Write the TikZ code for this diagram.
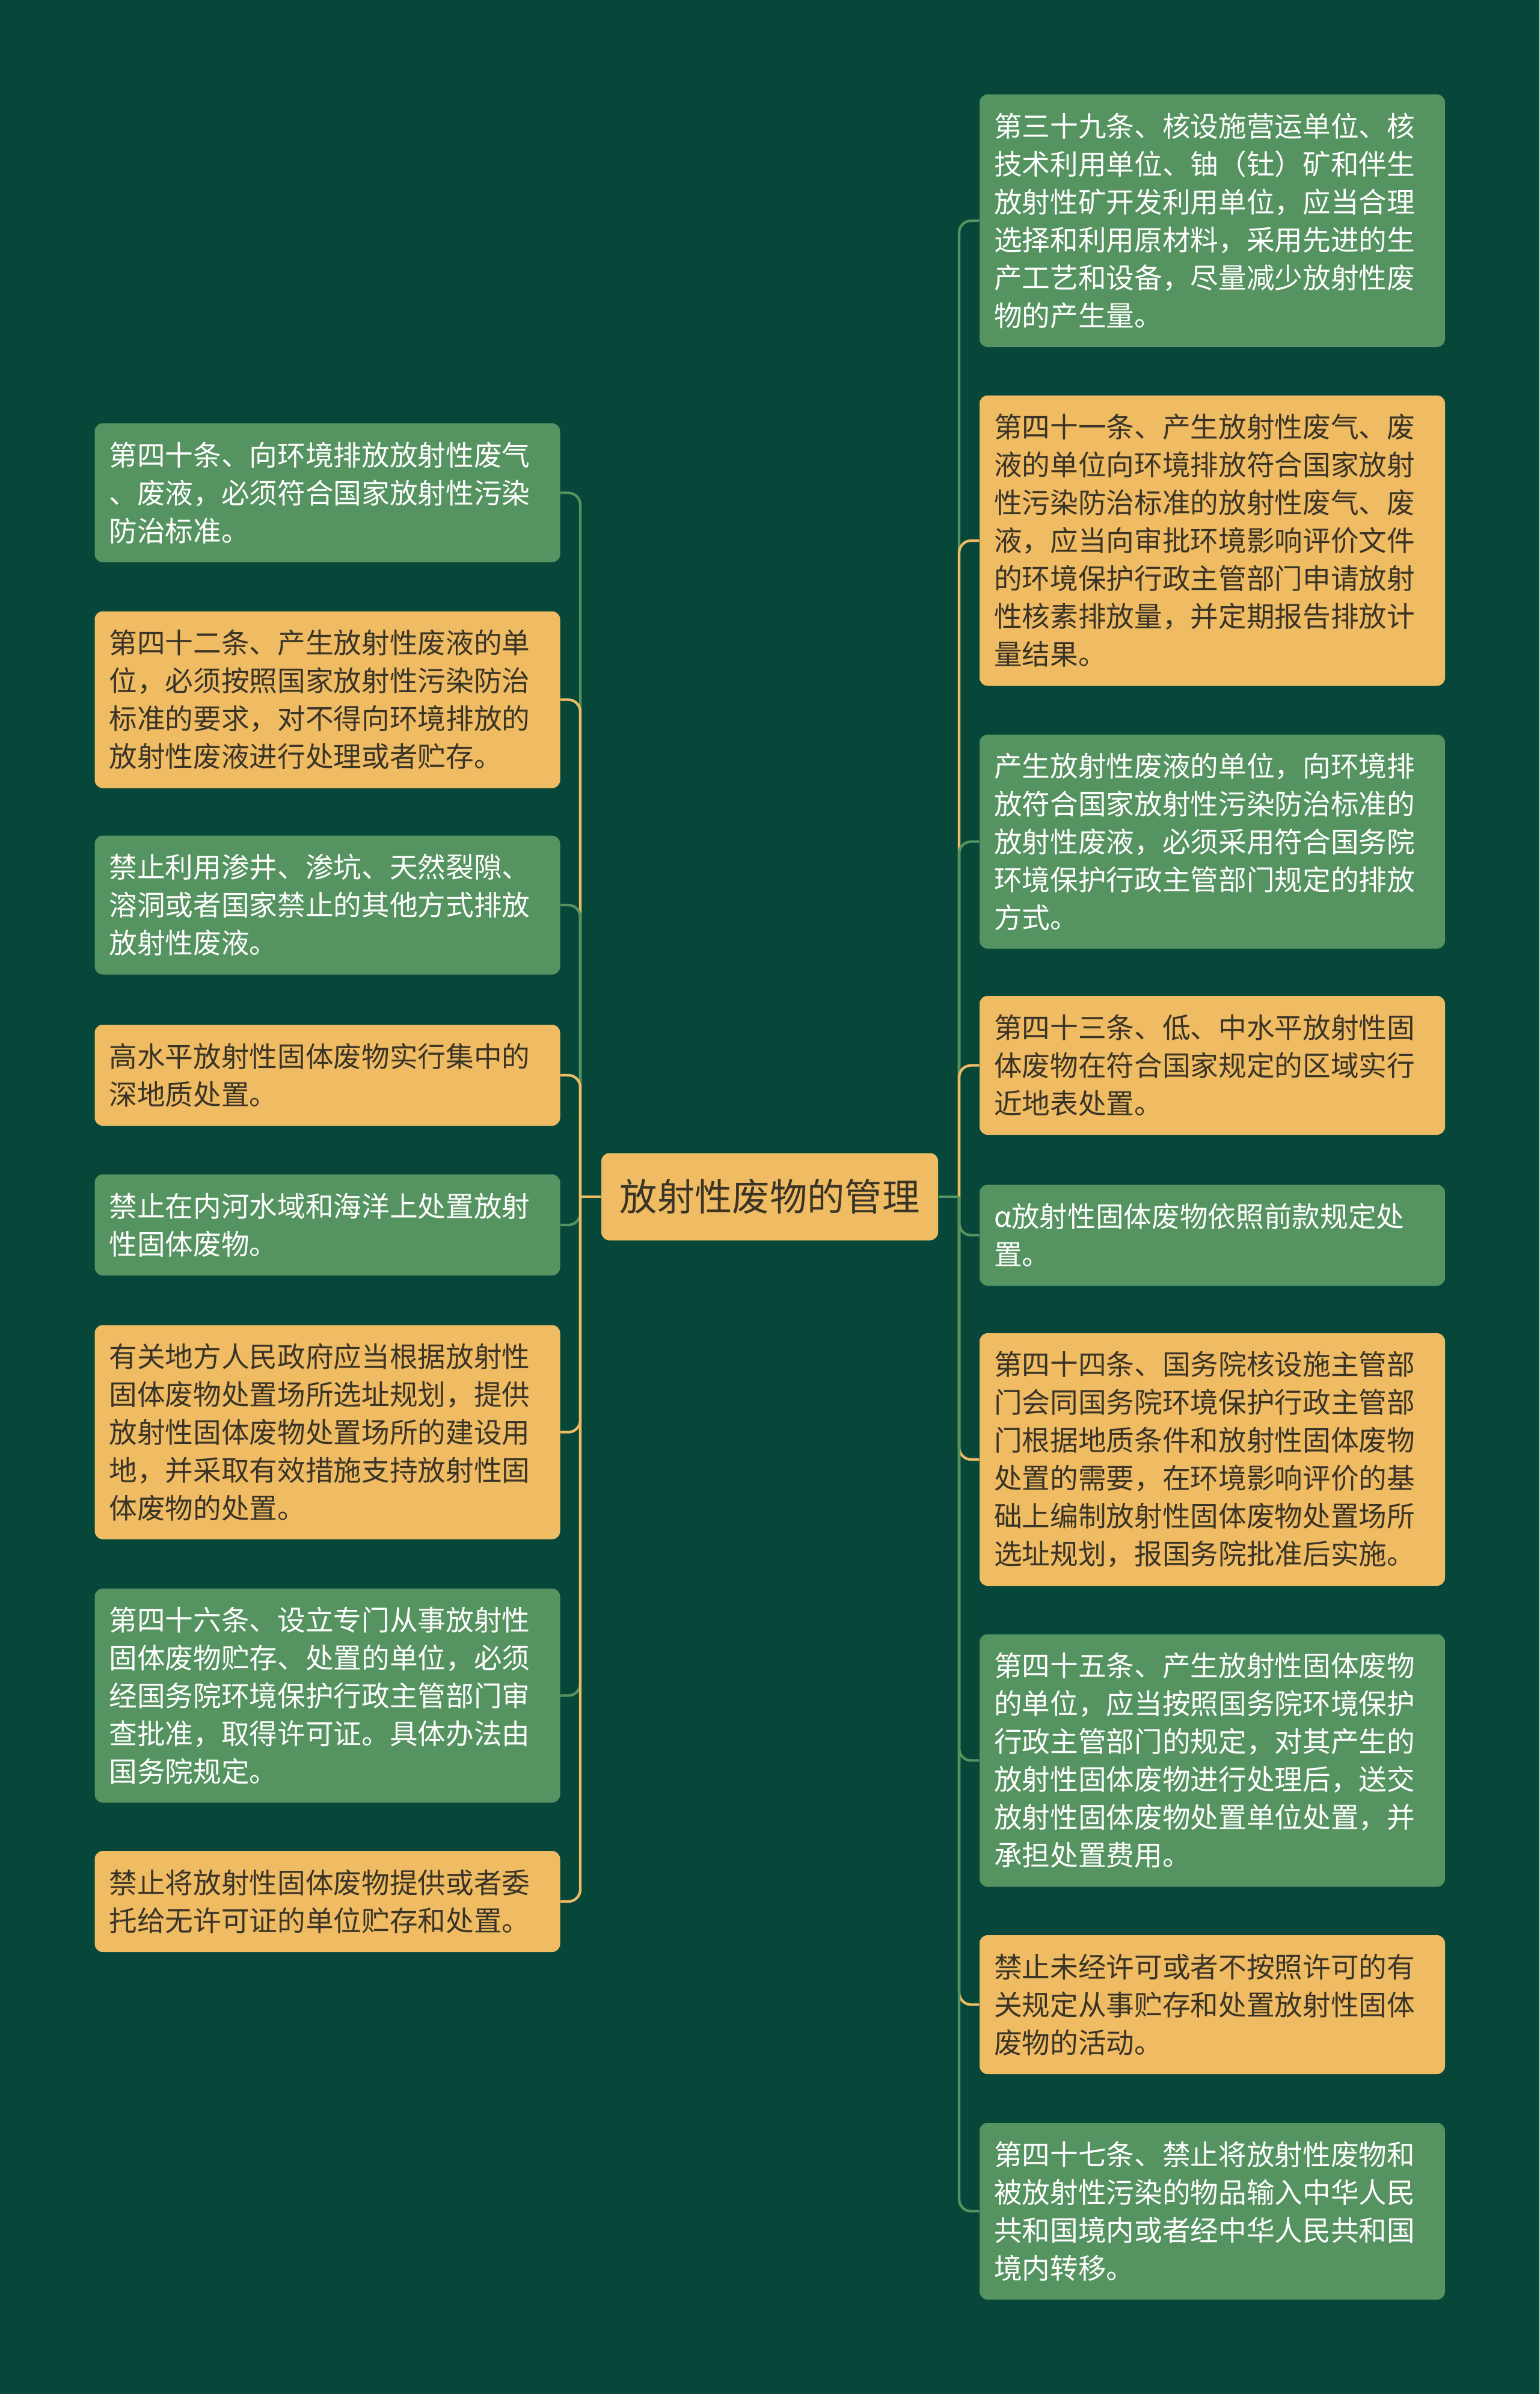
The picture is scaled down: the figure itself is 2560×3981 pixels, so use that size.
\documentclass[tikz,border=0pt]{standalone}
\usepackage{fontspec}
\setmainfont{Noto Sans CJK SC}
\definecolor{bg}{HTML}{07473A}
\definecolor{gbox}{HTML}{559360}
\definecolor{obox}{HTML}{EFBB63}
\definecolor{dtext}{HTML}{3A3427}
\tikzset{
  box/.style={rounded corners=4pt, text width=217.8pt, inner xsep=7.2pt, inner ysep=0pt,
    align=left, font=\fontsize{14pt}{18.9pt}\selectfont},
  gb/.style={box, fill=gbox, text=white},
  ob/.style={box, fill=obox, text=dtext},
  hii/.style={minimum height=50.4pt},
  hiii/.style={minimum height=69.3pt},
  hiv/.style={minimum height=88.2pt},
  hv/.style={minimum height=106.8pt},
  hvi/.style={minimum height=126pt},
  hvii/.style={minimum height=144.9pt},
  conn/.style={line width=1.3pt, rounded corners=6pt},
  centerbox/.style={rounded corners=4pt, fill=obox, text=dtext, minimum width=168pt,
    minimum height=43.5pt, inner sep=0pt, font=\fontsize{18.7pt}{22pt}\selectfont}
}
\begin{document}
\begin{tikzpicture}[x=0.3pt, y=-0.3pt]
\fill[bg] (0,0) rectangle (2560,3981);
\useasboundingbox (0,0) rectangle (2560,3981);

\node[centerbox] (c) at (1280,1990) {放射性废物的管理};
\coordinate (tl) at (965,1990);
\coordinate (tr) at (1595,1990);

% left boxes
\node[gb,hiii] (L1) at (544.5,819.5) {第四十条、向环境排放放射性废气\\、废液，必须符合国家放射性污染\\防治标准。};
\node[ob,hiv] (L2) at (544.5,1163.5) {第四十二条、产生放射性废液的单\\位，必须按照国家放射性污染防治\\标准的要求，对不得向环境排放的\\放射性废液进行处理或者贮存。};
\node[gb,hiii] (L3) at (544.5,1505) {禁止利用渗井、渗坑、天然裂隙、\\溶洞或者国家禁止的其他方式排放\\放射性废液。};
\node[ob,hii] (L4) at (544.5,1788) {高水平放射性固体废物实行集中的\\深地质处置。};
\node[gb,hii] (L5) at (544.5,2037) {禁止在内河水域和海洋上处置放射\\性固体废物。};
\node[ob,hv] (L6) at (544.5,2381.5) {有关地方人民政府应当根据放射性\\固体废物处置场所选址规划，提供\\放射性固体废物处置场所的建设用\\地，并采取有效措施支持放射性固\\体废物的处置。};
\node[gb,hv] (L7) at (544.5,2819.5) {第四十六条、设立专门从事放射性\\固体废物贮存、处置的单位，必须\\经国务院环境保护行政主管部门审\\查批准，取得许可证。具体办法由\\国务院规定。};
\node[ob,hii] (L8) at (544.5,3162) {禁止将放射性固体废物提供或者委\\托给无许可证的单位贮存和处置。};

% right boxes
\node[gb,hvi] (R1) at (2016,367) {第三十九条、核设施营运单位、核\\技术利用单位、铀（钍）矿和伴生\\放射性矿开发利用单位，应当合理\\选择和利用原材料，采用先进的生\\产工艺和设备，尽量减少放射性废\\物的产生量。};
\node[ob,hvii] (R2) at (2016,899) {第四十一条、产生放射性废气、废\\液的单位向环境排放符合国家放射\\性污染防治标准的放射性废气、废\\液，应当向审批环境影响评价文件\\的环境保护行政主管部门申请放射\\性核素排放量，并定期报告排放计\\量结果。};
\node[gb,hv] (R3) at (2016,1399.5) {产生放射性废液的单位，向环境排\\放符合国家放射性污染防治标准的\\放射性废液，必须采用符合国务院\\环境保护行政主管部门规定的排放\\方式。};
\node[ob,hiii] (R4) at (2016,1771.5) {第四十三条、低、中水平放射性固\\体废物在符合国家规定的区域实行\\近地表处置。};
\node[gb,hii] (R5) at (2016,2054) {α放射性固体废物依照前款规定处\\置。};
\node[ob,hvi] (R6) at (2016,2427) {第四十四条、国务院核设施主管部\\门会同国务院环境保护行政主管部\\门根据地质条件和放射性固体废物\\处置的需要，在环境影响评价的基\\础上编制放射性固体废物处置场所\\选址规划，报国务院批准后实施。};
\node[gb,hvi] (R7) at (2016,2927.5) {第四十五条、产生放射性固体废物\\的单位，应当按照国务院环境保护\\行政主管部门的规定，对其产生的\\放射性固体废物进行处理后，送交\\放射性固体废物处置单位处置，并\\承担处置费用。};
\node[ob,hiii] (R8) at (2016,3333.5) {禁止未经许可或者不按照许可的有\\关规定从事贮存和处置放射性固体\\废物的活动。};
\node[gb,hiv] (R9) at (2016,3677) {第四十七条、禁止将放射性废物和\\被放射性污染的物品输入中华人民\\共和国境内或者经中华人民共和国\\境内转移。};

% left connectors
\draw[conn,gbox] (tl) -- (tl |- L1.east) -- (L1.east);
\draw[conn,obox] (tl) -- (tl |- L2.east) -- (L2.east);
\draw[conn,gbox] (tl) -- (tl |- L3.east) -- (L3.east);
\draw[conn,obox] (tl) -- (tl |- L4.east) -- (L4.east);
\draw[conn,gbox] (tl) -- (tl |- L5.east) -- (L5.east);
\draw[conn,obox] (tl) -- (tl |- L6.east) -- (L6.east);
\draw[conn,gbox] (tl) -- (tl |- L7.east) -- (L7.east);
\draw[conn,obox] (tl) -- (tl |- L8.east) -- (L8.east);
\draw[line width=1.3pt,obox] (c.west) -- (tl);

% right connectors
\draw[conn,gbox] (tr) -- (tr |- R1.west) -- (R1.west);
\draw[conn,obox] (tr) -- (tr |- R2.west) -- (R2.west);
\draw[conn,gbox] (tr) -- (tr |- R3.west) -- (R3.west);
\draw[conn,obox] (tr) -- (tr |- R4.west) -- (R4.west);
\draw[conn,gbox] (tr) -- (tr |- R5.west) -- (R5.west);
\draw[conn,obox] (tr) -- (tr |- R6.west) -- (R6.west);
\draw[conn,gbox] (tr) -- (tr |- R7.west) -- (R7.west);
\draw[conn,obox] (tr) -- (tr |- R8.west) -- (R8.west);
\draw[conn,gbox] (tr) -- (tr |- R9.west) -- (R9.west);
\draw[line width=1.3pt,gbox] (c.east) -- (tr);
\end{tikzpicture}
\end{document}
